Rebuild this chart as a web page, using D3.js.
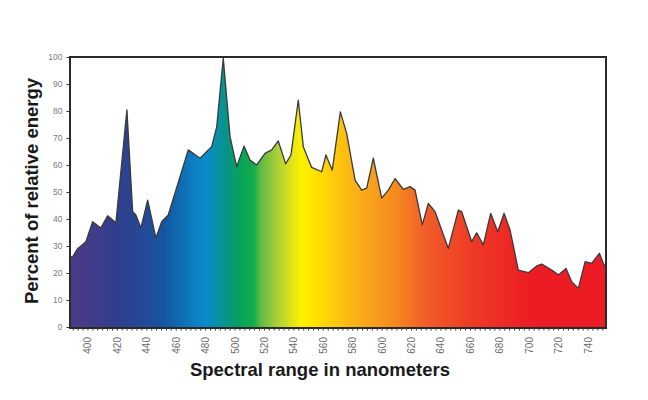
<!DOCTYPE html>
<html>
<head>
<meta charset="utf-8">
<script src="https://cdn.jsdelivr.net/npm/d3@7/dist/d3.min.js"></script>
<style>
  html, body { margin: 0; padding: 0; background: #fff; }
  svg { display: block; }
</style>
</head>
<body>
<svg id="chart" width="648" height="400"></svg>
<script>
// ---- data ----
const wavelengths = [387.8, 389.6, 393, 398.6, 403.2, 408.8, 413.4, 419, 426.5, 430.4, 432.6, 436, 440.6, 446.2, 450.1, 454.6, 468.2, 476.2, 484.1, 487.5, 492, 496.6, 501.1, 506.1, 510.2, 514.7, 520.4, 524.9, 529.4, 534.4, 538, 543, 546.4, 552.1, 558.9, 561.8, 566.1, 571.6, 575.9, 581.6, 586.1, 589.5, 594, 599.7, 604.2, 608.8, 614.4, 619, 622.4, 627.3, 631.4, 636, 645, 651.8, 654.1, 660.9, 664.3, 668.8, 673.8, 678.6, 682.9, 687, 692.6, 699.4, 705.1, 708.5, 715.3, 719.8, 725, 728.9, 733.4, 738, 742.5, 747.7, 750.4, 752];
const energy = [26, 26, 29, 31.6, 39, 36.7, 41.2, 38.6, 80.4, 42.7, 41.5, 36.7, 47, 33, 39, 41.5, 65.6, 62.5, 66.8, 74, 99.5, 70.5, 59.4, 67, 61.8, 60, 64.3, 65.6, 68.9, 60.4, 63.7, 84, 66.8, 59.1, 57.5, 63.7, 58.1, 79.7, 71.7, 54.4, 50.7, 51.4, 62.5, 47.7, 50.7, 55, 51, 52, 50.7, 37.8, 45.8, 42.7, 29.1, 43.3, 42.7, 31.6, 34.9, 30.4, 42.1, 35.3, 42.1, 35.9, 21.1, 20.1, 22.6, 23.3, 21.1, 19.3, 21.7, 16.8, 14.3, 24.2, 23.6, 27.3, 23.6, 22];
const xTickLabels = [400, 420, 440, 460, 480, 500, 520, 540, 560, 580, 600, 620, 640, 660, 680, 700, 720, 740];
const yTickLabels = [0, 10, 20, 30, 40, 50, 60, 70, 80, 90, 100];
// spectrum colour stops (wavelength, colour)
const stopNm = [388, 420, 440, 452, 480, 494, 505, 513, 517, 530, 545, 555, 572, 590, 610, 630, 660, 700, 752];
const stopColor = ["#4d3a88", "#303f8c", "#22499a", "#12589f", "#0a8ccf", "#079487", "#08a455", "#13ad4a", "#5cb946", "#b2d236", "#fff200", "#ffe100", "#fdc210", "#f9a51b", "#f5881f", "#f15c28", "#ee3c25", "#ed1c24", "#ed1c24"];

(function () {
// ---- layout ----
const svg = d3.select("#chart");
const pL = 70, pR = 606, pT = 57, pB = 327;
const x = d3.scaleLinear().domain([387.8, 752.2]).range([pL, pR]);
const y = d3.scaleLinear().domain([0, 100]).range([pB, pT]);

const data = wavelengths.map((w, i) => ({ w, v: energy[i] }));

// gradient
const defs = svg.append("defs");
const grad = defs.append("linearGradient")
  .attr("id", "spec")
  .attr("gradientUnits", "userSpaceOnUse")
  .attr("x1", pL).attr("x2", pR).attr("y1", 0).attr("y2", 0);
stopNm.forEach((nm, i) => {
  grad.append("stop")
    .attr("offset", (x(nm) - pL) / (pR - pL))
    .attr("stop-color", stopColor[i]);
});
defs.append("clipPath").attr("id", "clip")
  .append("rect").attr("x", pL).attr("y", pT).attr("width", pR - pL).attr("height", pB - pT + 1);

const area = d3.area().x(d => x(d.w)).y0(y(0)).y1(d => y(d.v));
const line = d3.line().x(d => x(d.w)).y(d => y(d.v));

const g = svg.append("g").attr("clip-path", "url(#clip)");
g.append("path").datum(data).attr("d", area).attr("fill", "url(#spec)");
g.append("path").datum(data).attr("d", line)
  .attr("fill", "none").attr("stroke", "#3a3a3a").attr("stroke-width", 1.3)
  .attr("stroke-linejoin", "round");

// frame
svg.append("rect")
  .attr("x", pL).attr("y", pT).attr("width", pR - pL).attr("height", pB - pT + 1)
  .attr("fill", "none").attr("stroke", "#2a2a2a").attr("stroke-width", 2);

// x axis minor ticks
const minor = d3.range(390, 752, 10 / 3);
svg.append("g").selectAll("line").data(minor).join("line")
  .attr("x1", d => x(d)).attr("x2", d => x(d))
  .attr("y1", pB + 1).attr("y2", pB + 3.5)
  .attr("stroke", "#333").attr("stroke-width", 1);

// x labels (rotated)
svg.append("g").selectAll("text").data(xTickLabels).join("text")
  .attr("transform", d => `translate(${x(d) + 3.5},${337}) rotate(-90)`)
  .attr("text-anchor", "end")
  .attr("font-family", "Liberation Sans, Arial, sans-serif")
  .attr("font-size", 10)
  .attr("fill", "#6a6a6a")
  .text(d => d);

// y axis
const yAxis = d3.axisLeft(y).tickValues(yTickLabels).tickSize(2.5).tickPadding(4);
const ya = svg.append("g").attr("transform", `translate(${pL - 1},0)`).call(yAxis);
ya.select(".domain").remove();
ya.selectAll(".tick line").attr("stroke", "#333");
ya.selectAll(".tick text")
  .attr("font-family", "Liberation Sans, Arial, sans-serif")
  .attr("font-size", 8.5)
  .attr("fill", "#7a7a7a");

// titles
svg.append("text")
  .attr("transform", `translate(38,191) rotate(-90)`)
  .attr("text-anchor", "middle")
  .attr("font-family", "Liberation Sans, Arial, sans-serif")
  .attr("font-weight", "bold")
  .attr("font-size", 18.5)
  .attr("fill", "#1a1a1a")
  .text("Percent of relative energy");

svg.append("text")
  .attr("x", 320).attr("y", 376)
  .attr("text-anchor", "middle")
  .attr("font-family", "Liberation Sans, Arial, sans-serif")
  .attr("font-weight", "bold")
  .attr("font-size", 18.5)
  .attr("fill", "#1a1a1a")
  .text("Spectral range in nanometers");
})();
</script>
</body>
</html>
